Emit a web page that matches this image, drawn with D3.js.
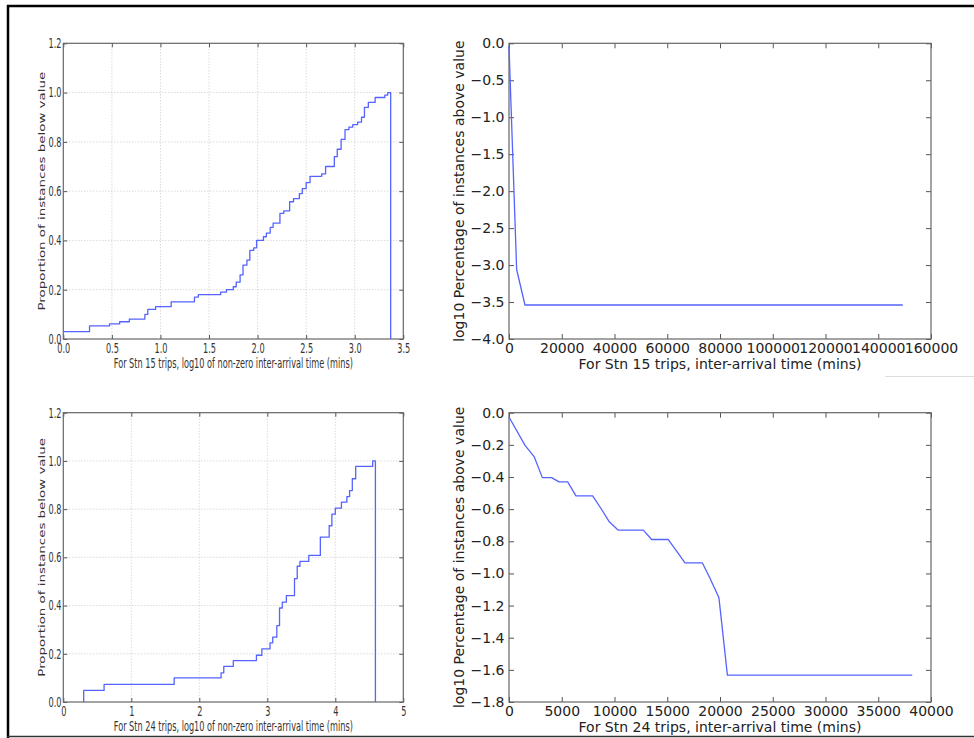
<!DOCTYPE html>
<html>
<head>
<meta charset="utf-8">
<script src="https://cdn.jsdelivr.net/npm/d3@7"></script>
<style>
  body { margin: 0; background: #fff; }
  svg { display: block; }
</style>
</head>
<body>
<div id="chart"></div>
<script>
// Stn 15: ECDF of log10 inter-arrival time (level starts at each x)
const stn15LogX = [0, 0.27, 0.476, 0.58, 0.68, 0.84, 0.87, 0.95, 1.11, 1.35, 1.39, 1.62, 1.68, 1.75, 1.78,
  1.82, 1.85, 1.89, 1.92, 1.96, 1.99, 2.06, 2.09, 2.13, 2.16, 2.23, 2.27, 2.33, 2.37, 2.43, 2.46, 2.50,
  2.54, 2.66, 2.70, 2.79, 2.82, 2.86, 2.90, 2.94, 2.98, 3.03, 3.07, 3.10, 3.14, 3.21, 3.31, 3.34, 3.37];
const stn15Prop = [0.03, 0.053, 0.061, 0.07, 0.081, 0.10, 0.12, 0.131, 0.151, 0.17, 0.18, 0.19, 0.20, 0.212,
  0.231, 0.26, 0.30, 0.32, 0.36, 0.37, 0.40, 0.415, 0.43, 0.453, 0.47, 0.51, 0.52, 0.557, 0.57, 0.59, 0.61,
  0.635, 0.66, 0.67, 0.70, 0.74, 0.77, 0.81, 0.85, 0.86, 0.87, 0.88, 0.90, 0.94, 0.96, 0.98, 0.99, 1.0, 0];

// Stn 24: ECDF of log10 inter-arrival time
const stn24LogX = [0.30, 0.30, 0.60, 1.63, 2.32, 2.36, 2.50, 2.84, 2.92, 3.04, 3.08, 3.14, 3.18, 3.22, 3.28,
  3.40, 3.44, 3.48, 3.61, 3.78, 3.91, 3.95, 4.00, 4.09, 4.17, 4.21, 4.25, 4.30, 4.55, 4.59];
const stn24Prop = [0, 0.048, 0.073, 0.10, 0.121, 0.148, 0.172, 0.194, 0.22, 0.245, 0.269, 0.317, 0.39, 0.414,
  0.441, 0.512, 0.563, 0.583, 0.608, 0.684, 0.731, 0.779, 0.804, 0.829, 0.852, 0.877, 0.926, 0.977, 1.0, 0];

// log10 share of instances above each inter-arrival time
const stn15Mins = [0, 2900, 6050, 149300];
const stn15LogPct = [-0.04, -3.06, -3.54, -3.54];

const stn24Mins = [0, 1520, 2400, 3160, 4040, 4740, 5560, 6350, 7930, 8720, 9510, 10360, 12730, 13520,
  15100, 15890, 16680, 18320, 19050, 19900, 20700, 38220];
const stn24LogPct = [-0.027, -0.203, -0.275, -0.404, -0.404, -0.43, -0.43, -0.518, -0.518, -0.596, -0.679,
  -0.731, -0.731, -0.789, -0.789, -0.861, -0.934, -0.934, -1.03, -1.152, -1.633, -1.633];

// tick values
const propTicks = [0, 0.2, 0.4, 0.6, 0.8, 1.0, 1.2];
const log15Ticks = [0, 0.5, 1.0, 1.5, 2.0, 2.5, 3.0, 3.5];
const log24Ticks = [0, 1, 2, 3, 4, 5];
const mins15Ticks = [0, 20000, 40000, 60000, 80000, 100000, 120000, 140000, 160000];
const pct15Ticks = [0, -0.5, -1.0, -1.5, -2.0, -2.5, -3.0, -3.5, -4.0];
const mins24Ticks = [0, 5000, 10000, 15000, 20000, 25000, 30000, 35000, 40000];
const pct24Ticks = [0, -0.2, -0.4, -0.6, -0.8, -1.0, -1.2, -1.4, -1.6, -1.8];

const width = 974;
const height = 738;
const lineColor = '#5563ff';

const svg = d3.select('#chart')
  .append('svg')
  .attr('width', width)
  .attr('height', height);

svg.append('rect').attr('width', width).attr('height', height).attr('fill', '#fff');

// screenshot frame
svg.append('line').attr('x1', 7).attr('x2', width).attr('y1', 6).attr('y2', 6)
  .attr('stroke', '#000').attr('stroke-width', 2.5);
svg.append('line').attr('x1', 8).attr('x2', 8).attr('y1', 5).attr('y2', height)
  .attr('stroke', '#000').attr('stroke-width', 2.5);
svg.append('line').attr('x1', 7).attr('x2', width).attr('y1', 736.5).attr('y2', 736.5)
  .attr('stroke', '#333').attr('stroke-width', 1.5);
svg.append('line').attr('x1', 885).attr('x2', width).attr('y1', 376.5).attr('y2', 376.5)
  .attr('stroke', '#ddd').attr('stroke-width', 1);

function drawPanel(p) {
  const x = d3.scaleLinear().domain(p.xDomain).range([p.left, p.right]);
  const y = d3.scaleLinear().domain(p.yDomain).range([p.bottom, p.top]);
  const sq = p.squeeze;
  const g = svg.append('g');

  if (p.grid) {
    g.selectAll('.vgrid')
      .data(p.xTicks.slice(1, -1))
      .enter()
      .append('line')
      .attr('x1', d => x(d)).attr('x2', d => x(d))
      .attr('y1', p.top).attr('y2', p.bottom)
      .attr('stroke', '#bbb').attr('stroke-width', 0.8).attr('stroke-dasharray', '1,2');
    g.selectAll('.hgrid')
      .data(p.yTicks.slice(1, -1))
      .enter()
      .append('line')
      .attr('x1', p.left).attr('x2', p.right)
      .attr('y1', d => y(d)).attr('y2', d => y(d))
      .attr('stroke', '#bbb').attr('stroke-width', 0.8).attr('stroke-dasharray', '1,2');
  }

  const styleAxis = sel => {
    sel.select('.domain').remove();
    sel.selectAll('.tick line').attr('stroke', '#555');
    sel.selectAll('text')
      .attr('font-family', 'DejaVu Sans, sans-serif')
      .attr('font-size', p.fontSize)
      .attr('fill', p.textColor)
      .attr('transform', `scale(${sq},1)`);
  };

  g.append('g')
    .attr('transform', `translate(0,${p.bottom})`)
    .call(d3.axisBottom(x).tickValues(p.xTicks).tickFormat(p.xFmt)
      .tickSizeInner(-p.tick).tickSizeOuter(0).tickPadding(p.xPad))
    .call(styleAxis);
  g.append('g')
    .attr('transform', `translate(0,${p.top})`)
    .call(d3.axisTop(x).tickValues(p.xTicks).tickFormat('')
      .tickSizeInner(-p.tick).tickSizeOuter(0))
    .call(styleAxis);
  g.append('g')
    .attr('transform', `translate(${p.left},0)`)
    .call(d3.axisLeft(y).tickValues(p.yTicks).tickFormat(p.yFmt)
      .tickSizeInner(-p.tick).tickSizeOuter(0).tickPadding(p.yPad))
    .call(styleAxis);
  g.append('g')
    .attr('transform', `translate(${p.right},0)`)
    .call(d3.axisRight(y).tickValues(p.yTicks).tickFormat('')
      .tickSizeInner(-p.tick).tickSizeOuter(0))
    .call(styleAxis);

  g.append('rect')
    .attr('x', p.left).attr('y', p.top)
    .attr('width', p.right - p.left).attr('height', p.bottom - p.top)
    .attr('fill', 'none').attr('stroke', '#666').attr('stroke-width', 1.2);

  const pts = p.xs.map((v, i) => [v, p.ys[i]]);
  const line = d3.line()
    .x(d => x(d[0]))
    .y(d => y(d[1]))
    .curve(p.curve);

  g.append('path')
    .datum(pts)
    .attr('d', line)
    .attr('fill', 'none')
    .attr('stroke', lineColor)
    .attr('stroke-width', 1.3)
    .attr('stroke-linejoin', 'round');

  // axis titles
  g.append('text')
    .attr('transform', `translate(${(p.left + p.right) / 2},${p.xLabelY}) scale(${sq},1)`)
    .attr('text-anchor', 'middle')
    .attr('font-family', 'DejaVu Sans, sans-serif')
    .attr('font-size', p.fontSize)
    .attr('fill', p.textColor)
    .text(p.xLabel);

  g.append('text')
    .attr('transform', `translate(${p.yLabelX},${(p.top + p.bottom) / 2}) rotate(-90) scale(1,${sq})`)
    .attr('text-anchor', 'middle')
    .attr('font-family', 'DejaVu Sans, sans-serif')
    .attr('font-size', p.fontSize)
    .attr('fill', p.textColor)
    .text(p.yLabel);
}

const leftStyle = { left: 63.3, right: 403.3, squeeze: 0.61, fontSize: 13.4, textColor: '#333',
  grid: true, tick: 4, xPad: 4, yPad: 3, yLabelX: 45, curve: d3.curveStepAfter,
  xFmt: d3.format('.1f'), yFmt: d3.format('.1f'), yTicks: propTicks, yDomain: [0, 1.2],
  yLabel: 'Proportion of instances below value' };

const rightStyle = { left: 509, right: 931, squeeze: 1, fontSize: 14, textColor: '#222',
  grid: false, tick: 5, xPad: 4, yPad: 4.5, yLabelX: 464, curve: d3.curveLinear,
  xFmt: d3.format('d'), yFmt: d3.format('.1f') };

drawPanel(Object.assign({}, leftStyle, {
  top: 43.3, bottom: 339, xDomain: [0, 3.5], xTicks: log15Ticks,
  xs: stn15LogX, ys: stn15Prop, xLabelY: 368,
  xLabel: 'For Stn 15 trips, log10 of non-zero inter-arrival time (mins)'
}));

drawPanel(Object.assign({}, leftStyle, {
  top: 412.7, bottom: 702, xDomain: [0, 5], xTicks: log24Ticks, xFmt: d3.format('d'),
  xs: stn24LogX, ys: stn24Prop, xLabelY: 731,
  xLabel: 'For Stn 24 trips, log10 of non-zero inter-arrival time (mins)'
}));

drawPanel(Object.assign({}, rightStyle, {
  top: 43.3, bottom: 339, xDomain: [0, 160000], yDomain: [-4, 0],
  xTicks: mins15Ticks, yTicks: pct15Ticks,
  xs: stn15Mins, ys: stn15LogPct, xLabelY: 368.5,
  xLabel: 'For Stn 15 trips, inter-arrival time (mins)',
  yLabel: 'log10 Percentage of instances above value'
}));

drawPanel(Object.assign({}, rightStyle, {
  top: 412.7, bottom: 702, xDomain: [0, 40000], yDomain: [-1.8, 0],
  xTicks: mins24Ticks, yTicks: pct24Ticks,
  xs: stn24Mins, ys: stn24LogPct, xLabelY: 731.5,
  xLabel: 'For Stn 24 trips, inter-arrival time (mins)',
  yLabel: 'log10 Percentage of instances above value'
}));
</script>
</body>
</html>
